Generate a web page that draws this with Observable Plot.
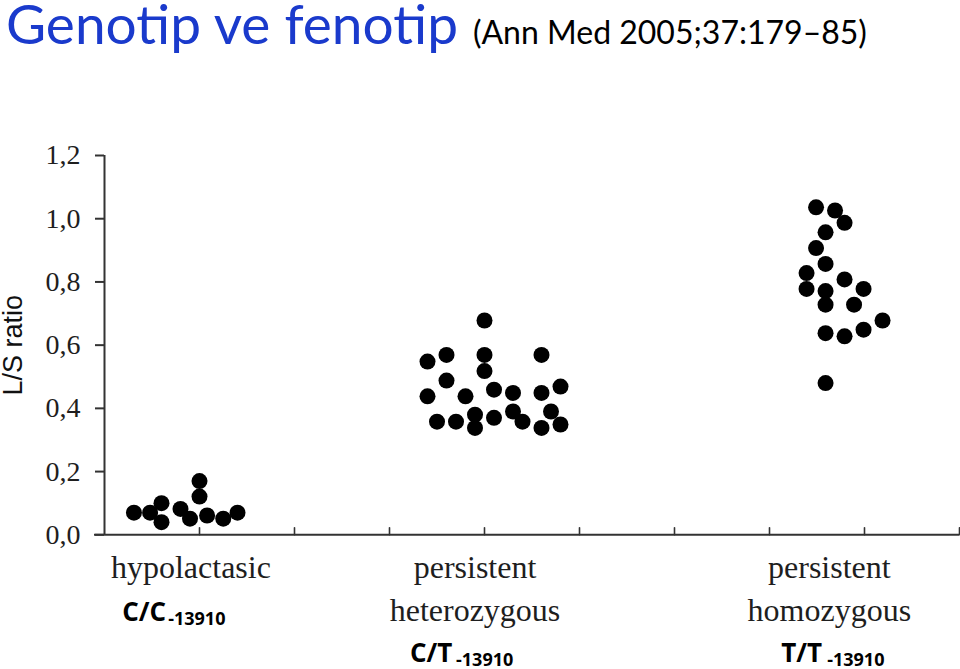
<!DOCTYPE html>
<html><head><meta charset="utf-8">
<script src="https://cdn.jsdelivr.net/npm/d3@7"></script>
<script src="https://cdn.jsdelivr.net/npm/@observablehq/plot@0.6"></script>
<style>
body{margin:0;background:#fff;}
#title{height:60px;box-sizing:border-box;padding-left:6px;font-family:Lato,sans-serif;font-size:55px;line-height:47px;white-space:nowrap;}
#title .main{color:#1a3acc;}
#title .ref{color:#000;font-size:32px;margin-left:15px;}
#chart svg{display:block;}
</style>
</head><body>
<div id="title"><span class="main">Genotip ve fenotip</span><span class="ref">(Ann Med 2005;37:179–85)</span></div>
<div id="chart"></div>
<script>
// Categories and labels
const categoryLines = [["hypolactasic"], ["persistent", "heterozygous"], ["persistent", "homozygous"]];
const categoryX = [0.91, 3.9, 7.63];
const genotypes = ["C/C", "C/T", "T/T"];
const genotypeX = [0.186, 3.216, 7.123];
const snp = "-13910";
const yTicks = [0, 0.2, 0.4, 0.6, 0.8, 1.0, 1.2];
const xTicks = [1, 2, 3, 4, 5, 6, 7, 8, 9];
const yLabel = "L/S ratio";

// Series: hypolactasic (C/C)
const hypoX = [0.31, 0.48, 0.6, 0.6, 0.8, 0.9, 1.0, 1.0, 1.08, 1.25, 1.4];
const hypoY = [0.07, 0.07, 0.10, 0.04, 0.082, 0.051, 0.17, 0.121, 0.061, 0.051, 0.07];
// persistent heterozygous (C/T)
const hetX = [4.0, 3.4, 3.6, 4.0, 4.6, 4.0, 3.6, 3.4, 3.8, 4.1, 4.3, 4.6, 4.8, 3.5, 3.7, 3.9, 3.9, 4.1, 4.3, 4.4, 4.7, 4.6, 4.8];
const hetY = [0.678, 0.548, 0.569, 0.569, 0.569, 0.518, 0.488, 0.438, 0.438, 0.459, 0.449, 0.449, 0.469, 0.358, 0.358, 0.380, 0.338, 0.370, 0.390, 0.358, 0.390, 0.338, 0.349];
// persistent homozygous (T/T)
const homoX = [7.49, 7.69, 7.79, 7.59, 7.49, 7.59, 7.39, 7.79, 7.39, 7.59, 7.99, 7.59, 7.89, 8.19, 7.59, 7.79, 7.99, 7.59];
const homoY = [1.036, 1.026, 0.987, 0.957, 0.907, 0.857, 0.828, 0.808, 0.778, 0.771, 0.778, 0.728, 0.728, 0.678, 0.638, 0.628, 0.649, 0.480];

const series = [[hypoX, hypoY], [hetX, hetY], [homoX, homoY]];
const points = series.flatMap(([xs, ys], g) => xs.map((x, i) => ({group: g, x, y: ys[i]})));

const labelRows = categoryLines.flatMap((lines, g) => lines.map((t, i) => ({x: categoryX[g], text: t, line: i})));
const genoRows = genotypes.map((t, g) => ({x: genotypeX[g], text: t, line: categoryLines[g].length}));

const serif = "'Liberation Serif', 'Times New Roman', serif";
const sans = "'Open Sans', sans-serif";
const ink = "#1e1e1e";
const axisColor = "#333";
const lineDy = [42.7, 85.7, 126.7];

const tickShape = {draw(ctx, l) { ctx.moveTo(0, 0); ctx.lineTo(0, -l); }};

const marks = [
  Plot.ruleX([0], {stroke: axisColor, strokeWidth: 2}),
  Plot.ruleY([0], {stroke: axisColor, strokeWidth: 2, insetLeft: -10}),
  Plot.axisY({ticks: yTicks, tickFormat: d => d.toFixed(1).replace(".", ","), tickSize: 9, tickPadding: 15,
    fontSize: 28, fontFamily: serif, fill: ink, stroke: axisColor, strokeWidth: 2, label: null}),
  Plot.vector(xTicks, {x: d => d, y: () => 0, length: 7, anchor: "start", shape: tickShape, stroke: axisColor, strokeWidth: 1.6}),
  Plot.text([yLabel], {frameAnchor: "left", textAnchor: "middle", dx: -91, rotate: -90,
    fontFamily: "'Liberation Sans', Arial, sans-serif", fontSize: 27, fill: "#111"}),
  Plot.dot(points, {x: "x", y: "y", r: 8, fill: "#000", stroke: null})
];
for (let i = 0; i < 2; i++) {
  marks.push(Plot.text(labelRows.filter(d => d.line === i), {x: "x", text: "text", frameAnchor: "bottom", lineAnchor: "bottom",
    dy: lineDy[i], fontFamily: serif, fontSize: 32, fill: ink, textAnchor: "middle"}));
}
for (let i = 1; i < 3; i++) {
  const rows = genoRows.filter(d => d.line === i);
  marks.push(Plot.text(rows, {x: "x", text: "text", frameAnchor: "bottom", lineAnchor: "bottom", dy: lineDy[i],
    fontFamily: sans, fontWeight: "bold", fontSize: 26, fill: "#000", textAnchor: "start"}));
  marks.push(Plot.text(rows, {x: "x", text: () => snp, frameAnchor: "bottom", lineAnchor: "bottom", dy: lineDy[i] + 4, dx: 46,
    fontFamily: sans, fontWeight: "bold", fontSize: 18, fill: "#000", textAnchor: "start"}));
}

const chart = Plot.plot({
  width: 960,
  height: 609,
  marginTop: 95,
  marginBottom: 134.7,
  marginLeft: 104,
  marginRight: 1,
  style: {background: "#fff", overflow: "visible"},
  x: {domain: [0, 9], axis: null},
  y: {domain: [0, 1.2], axis: null},
  marks
});
document.getElementById("chart").append(chart);
</script>
</body></html>
